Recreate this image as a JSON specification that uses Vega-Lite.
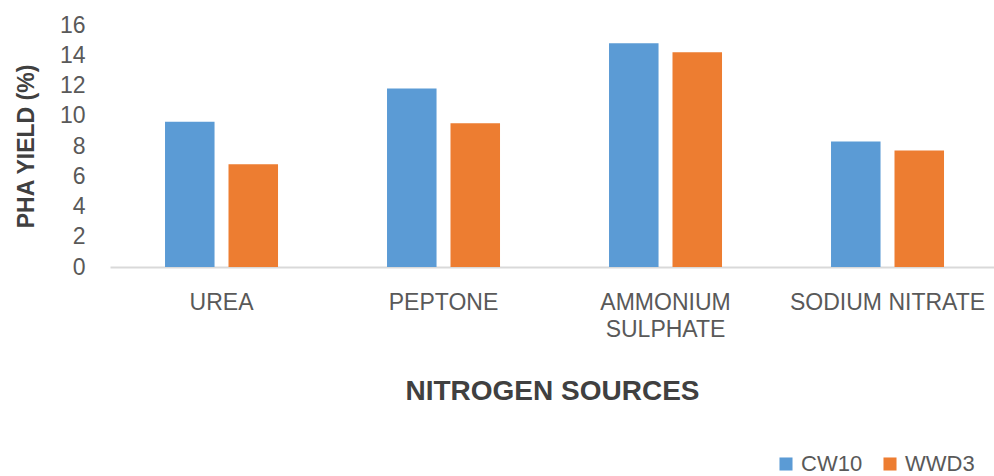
{
  "$schema": "https://vega.github.io/schema/vega-lite/v6.json",
  "width": 884,
  "height": 242,
  "autosize": {"type": "none"},
  "padding": {"left": 110, "top": 25, "right": 0, "bottom": 209},
  "background": "white",
  "config": {
    "view": {"stroke": null},
    "font": "Liberation Sans",
    "axis": {"labelFont": "Liberation Sans", "titleFont": "Liberation Sans"},
    "legend": {"labelFont": "Liberation Sans"}
  },
  "data": {
    "values": [
      {"source": "UREA", "strain": "CW10", "yield": 9.6},
      {"source": "UREA", "strain": "WWD3", "yield": 6.8},
      {"source": "PEPTONE", "strain": "CW10", "yield": 11.8},
      {"source": "PEPTONE", "strain": "WWD3", "yield": 9.5},
      {"source": "AMMONIUM SULPHATE", "strain": "CW10", "yield": 14.8},
      {"source": "AMMONIUM SULPHATE", "strain": "WWD3", "yield": 14.2},
      {"source": "SODIUM NITRATE", "strain": "CW10", "yield": 8.3},
      {"source": "SODIUM NITRATE", "strain": "WWD3", "yield": 7.7}
    ]
  },
  "mark": {"type": "bar"},
  "encoding": {
    "x": {
      "field": "source",
      "type": "nominal",
      "sort": ["UREA", "PEPTONE", "AMMONIUM SULPHATE", "SODIUM NITRATE"],
      "scale": {"paddingInner": 0.491, "paddingOuter": 0.2365, "align": 0.524},
      "axis": {
        "title": "NITROGEN SOURCES",
        "titleFontSize": 28,
        "titleFontWeight": "bold",
        "titleColor": "#404040",
        "titleY": 132,
        "titleBaseline": "alphabetic",
        "labelAngle": 0,
        "labelFontSize": 23,
        "labelColor": "#595959",
        "labelPadding": 24,
        "labelLineHeight": 27,
        "labelExpr": "datum.label == 'AMMONIUM SULPHATE' ? ['AMMONIUM', 'SULPHATE'] : datum.label",
        "ticks": false,
        "domainColor": "#d9d9d9",
        "domainWidth": 2,
        "labelLimit": 300
      }
    },
    "xOffset": {
      "field": "strain",
      "type": "nominal",
      "scale": {"paddingInner": 0.22, "paddingOuter": 0}
    },
    "y": {
      "field": "yield",
      "type": "quantitative",
      "scale": {"domain": [0, 16]},
      "axis": {
        "title": "PHA YIELD (%)",
        "titleFontSize": 23,
        "titleFontWeight": "bold",
        "titleColor": "#404040",
        "titlePadding": 21,
        "values": [0, 2, 4, 6, 8, 10, 12, 14, 16],
        "labelFontSize": 23,
        "labelColor": "#595959",
        "labelPadding": 25,
        "grid": false,
        "domain": false,
        "ticks": false
      }
    },
    "color": {
      "field": "strain",
      "type": "nominal",
      "scale": {"domain": ["CW10", "WWD3"], "range": ["#5B9BD5", "#ED7D31"]},
      "legend": {
        "title": null,
        "orient": "none",
        "direction": "horizontal",
        "legendX": 665,
        "legendY": 428,
        "symbolType": "square",
        "symbolSize": 170,
        "symbolStrokeWidth": 0,
        "labelFontSize": 22,
        "labelColor": "#595959",
        "labelOffset": 4,
        "columnPadding": 16,
        "padding": 0
      }
    }
  }
}
